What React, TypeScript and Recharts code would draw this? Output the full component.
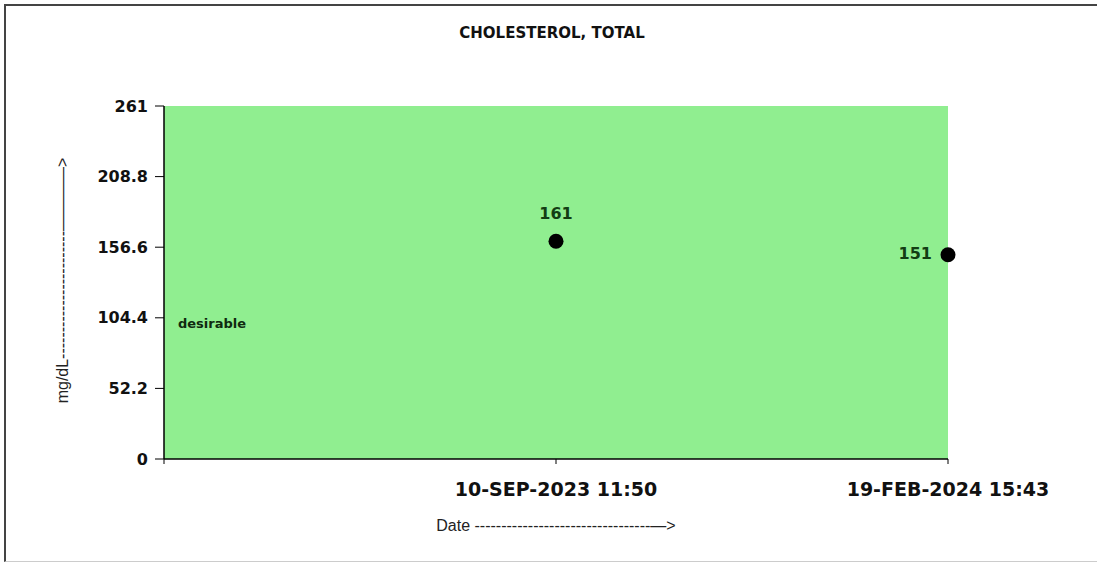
import React from 'react';
import {
  ComposedChart,
  Line,
  XAxis,
  YAxis,
  ReferenceArea,
  LabelList,
} from 'recharts';

const title = 'CHOLESTEROL, TOTAL';
const dateLabels = ['10-SEP-2023 11:50', '19-FEB-2024 15:43'];
const values = [161, 151];
const yTicks = [0, 52.2, 104.4, 156.6, 208.8, 261];
const yMax = 261;
const bandLabel = 'desirable';
const bandLow = 0;
const bandHigh = 200;
const yAxisTitle = 'mg/dL------------------------————>';
const xAxisTitle = 'Date ---------------------------------—>';

const data = values.map((v, i) => ({ pos: i + 1, date: dateLabels[i], value: v }));
const xTicks = [0, ...dateLabels.map((_, i) => i + 1)];

const BOLD = '"DejaVu Sans", Verdana, sans-serif';
const REG = '"Liberation Sans", Arial, sans-serif';
const GREEN = '#90EE90';

const ValueLabel = (props: any) => {
  const { x, y, value, index } = props;
  const isLast = index === values.length - 1;
  if (isLast) {
    return (
      <text x={x - 16} y={y + 4} textAnchor="end" fontFamily={BOLD} fontWeight="bold" fontSize={16} fill="#133d13">
        {value}
      </text>
    );
  }
  return (
    <text x={x} y={y - 22} textAnchor="middle" fontFamily={BOLD} fontWeight="bold" fontSize={16} fill="#133d13">
      {value}
    </text>
  );
};

const YTitle = (props: any) => {
  const vb = props.viewBox || {};
  const cx = vb.x + vb.width - 102;
  const cy = vb.y + vb.height / 2 - 2;
  return (
    <text x={cx} y={cy} transform={`rotate(-90 ${cx} ${cy})`} textAnchor="middle" dominantBaseline="central" fontFamily={REG} fontSize={16} fill="#222">
      {yAxisTitle}
    </text>
  );
};

const XTitle = (props: any) => {
  const vb = props.viewBox || {};
  const cx = vb.x + vb.width / 2;
  return (
    <text x={cx} y={vb.y + 72} textAnchor="middle" fontFamily={REG} fontSize={16} fill="#222">
      {xAxisTitle}
    </text>
  );
};

export default function App() {
  return (
    <div style={{ position: 'absolute', left: 0, top: 0, width: 1097, height: 563, background: '#fff', overflow: 'hidden' }}>
      <div
        style={{
          position: 'absolute',
          left: 4,
          top: 4,
          width: 1300,
          height: 558,
          boxSizing: 'border-box',
          borderLeft: '2px solid #444',
          borderTop: '2px solid #444',
          borderBottom: '1px solid #ccc',
          background: 'transparent',
        }}
      />
      <div
        style={{
          position: 'absolute',
          left: 0,
          top: 24,
          width: 1097,
          textAlign: 'center',
          fontFamily: BOLD,
          fontWeight: 'bold',
          fontSize: 15,
          color: '#111',
          paddingLeft: 7,
          boxSizing: 'border-box',
        }}
      >
        {title}
      </div>
      <div style={{ position: 'absolute', left: 0, top: 0, width: 1097, height: 563 }}>
        <ComposedChart
          width={1097}
          height={563}
          data={data}
          margin={{ top: 106, right: 149, left: 104, bottom: 64 }}
        >
          <ReferenceArea
            x1={0}
            x2={dateLabels.length}
            y1={0}
            y2={yMax}
            fill={GREEN}
            fillOpacity={1}
            stroke="none"
          />
          <ReferenceArea
            x1={0}
            x2={dateLabels.length}
            y1={bandLow}
            y2={bandHigh}
            fill={GREEN}
            fillOpacity={1}
            stroke="none"
            label={{
              value: bandLabel,
              position: 'insideLeft',
              offset: 14,
              fontFamily: BOLD,
              fontWeight: 'bold',
              fontSize: 13,
              fill: '#0f2a0f',
            }}
          />
          <XAxis
            dataKey="pos"
            type="number"
            domain={[0, dateLabels.length]}
            ticks={xTicks}
            tickFormatter={(v: number) => (v === 0 ? '' : dateLabels[v - 1])}
            axisLine={{ stroke: '#000', strokeWidth: 1.5 }}
            tickLine={{ stroke: '#000' }}
            tickSize={5}
            tickMargin={19}
            height={40}
            interval={0}
            tick={{ fontFamily: BOLD, fontWeight: 'bold', fontSize: 19, fill: '#111' }}
            label={<XTitle />}
          />
          <YAxis
            type="number"
            domain={[0, yMax]}
            ticks={yTicks}
            allowDecimals
            axisLine={{ stroke: '#000', strokeWidth: 1.5 }}
            tickLine={{ stroke: '#000' }}
            tickSize={9}
            tickMargin={7}
            width={60}
            interval={0}
            tick={{ fontFamily: BOLD, fontWeight: 'bold', fontSize: 16, fill: '#111' }}
            label={<YTitle />}
          />
          <Line
            dataKey="value"
            stroke="none"
            isAnimationActive={false}
            dot={{ r: 7.5, fill: '#000', stroke: 'none' }}
            activeDot={false}
          >
            <LabelList dataKey="value" content={<ValueLabel />} />
          </Line>
        </ComposedChart>
      </div>
    </div>
  );
}
